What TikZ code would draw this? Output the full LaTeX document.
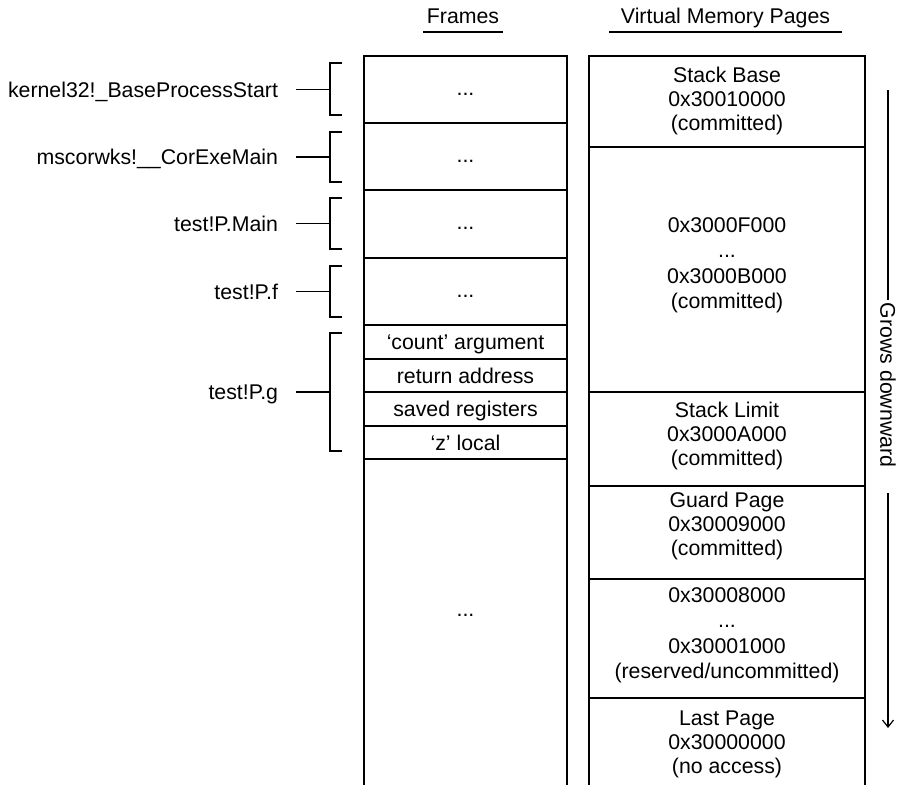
\documentclass[tikz,border=0pt]{standalone}
\usepackage{fontspec}
\setmainfont{Liberation Sans}
\usetikzlibrary{arrows.meta}
\begin{document}
\begin{tikzpicture}[x=1pt,y=-1pt,
  every node/.style={font=\fontsize{21.3}{24}\selectfont, inner sep=0pt, outer sep=0pt},
  ln/.style={line width=1.2pt},
  cell/.style={draw, line width=1.2pt, minimum width=203pt, text height=15pt, text depth=0pt},
  dotcell/.style={draw, line width=1.2pt, minimum width=203pt, text height=11pt, text depth=0pt},
  page/.style={draw, line width=1.2pt, minimum width=276pt},
  ptext/.style={align=center},
  ptextw/.style={align=center, font=\fontsize{21.3}{25.5}\selectfont},
  fname/.style={anchor=east, text height=15pt, text depth=0pt},
  hdr/.style={anchor=base},
]
\useasboundingbox (0,0) rectangle (897,785);

% headers
\node[hdr] (hF) at (463,23.5) {Frames};
\node[hdr] (hV) at (725.5,23.5) {Virtual Memory Pages};
\draw[ln] (423,32) -- (503,32);
\draw[ln] (609,32) -- (842,32);

% frames column
\node[dotcell, minimum height=67pt] (f1) at (465.5,89.5) {...};
\node[dotcell, minimum height=67pt] (f2) at (465.5,156.5) {...};
\node[dotcell, minimum height=68pt] (f3) at (465.5,224) {...};
\node[dotcell, minimum height=67pt] (f4) at (465.5,291.5) {...};
\node[cell, minimum height=34pt] (fc) at (465.5,342) {‘count’ argument};
\node[cell, minimum height=33pt] (fr) at (465.5,375.5) {return address};
\node[cell, minimum height=34pt] (fs) at (465.5,409) {saved registers};
\node[cell, minimum height=33pt] (fz) at (465.5,442.5) {‘z’ local};
\coordinate (fbl) at (364,785);
\coordinate (fbr) at (567,785);
\draw[ln] (fz.south west) -- (fbl);
\draw[ln] (fz.south east) -- (fbr);
\node (fb) at (465.5,615) {...};

% pages column
\node[page, minimum height=91pt] (p1) at (727,101.5) {};
\node[page, minimum height=245pt] (p2) at (727,269.5) {};
\node[page, minimum height=94pt] (p3) at (727,439) {};
\node[page, minimum height=93pt] (p4) at (727,532.5) {};
\node[page, minimum height=119pt] (p5) at (727,638.5) {};
\coordinate (pbl) at (589,785);
\coordinate (pbr) at (865,785);
\draw[ln] (p5.south west) -- (pbl);
\draw[ln] (p5.south east) -- (pbr);

\node[ptext] (t1) at (727,101) {Stack Base\\0x30010000\\(committed)};
\node[ptextw] (t2) at (727,265.5) {0x3000F000\\...\\0x3000B000\\(committed)};
\node[ptext] (t3) at (727,436) {Stack Limit\\0x3000A000\\(committed)};
\node[ptext] (t4) at (727,526) {Guard Page\\0x30009000\\(committed)};
\node[ptextw] (t5) at (727,635.5) {0x30008000\\...\\0x30001000\\(reserved/uncommitted)};
\node[ptext] (t6) at (727,744) {Last Page\\0x30000000\\(no access)};

% function labels with brackets
\foreach \nm/\txt/\yc/\ya/\yb in {
  k1/kernel32!\_BaseProcessStart/89.5/63/115,
  k2/mscorwks!\_\_CorExeMain/157/132/182,
  k3/test!P.Main/223.5/198/249,
  k4/test!P.f/291.5/266/317,
  k5/test!P.g/392/333/451}{
  \node[fname] (\nm) at (278,\yc) {\txt};
  \coordinate (\nm b) at (330,\yc);
  \coordinate (\nm t) at (342,\ya);
  \coordinate (\nm u) at (342,\yb);
  \draw[ln] ([xshift=18pt]\nm.east) -- (\nm b);
  \draw[ln] (\nm t) -- (330,\ya) -- (330,\yb) -- (\nm u);
}

% grows downward
\node[rotate=-90, inner sep=3pt] (gd) at (888,385) {Grows downward};
\coordinate (g1) at (888,90);
\coordinate (g2) at (888,493);
\coordinate (g3) at (888,728);
\draw[ln] (g1) -- (gd.west);
\draw[ln, -{Straight Barb[length=7pt,width=11pt]}] (g2) -- (g3);
\end{tikzpicture}
\end{document}
